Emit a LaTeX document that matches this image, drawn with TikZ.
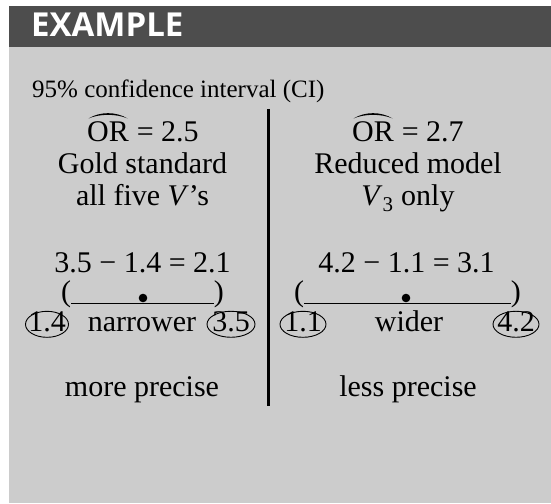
\documentclass[tikz,border=0pt]{standalone}
\usepackage{fontspec}
\setmainfont{Liberation Serif}
\newfontfamily\hdrfont{Open Sans}
\definecolor{panelgray}{RGB}{204,204,204}
\definecolor{headgray}{RGB}{77,77,77}
\begin{document}
\begin{tikzpicture}[x=1pt,y=1pt,
  txt/.style={inner sep=0pt, font=\fontsize{30}{34}\selectfont, anchor=base},
  ring/.style={draw=black, line width=0.9pt},
  bar/.style={line width=1.2pt},
  dotnode/.style={circle, fill=black, inner sep=0pt, minimum size=8.6pt},
  pics/orhat/.style={code={
    \fill (-19.5,3.5) .. controls (-8,10.5) and (8,10.5) .. (19.5,3.5)
          .. controls (8,8.3) and (-8,8.3) .. (-19.5,3.5) -- cycle;}}
]
\useasboundingbox (0,0) rectangle (551,503);
\fill[panelgray] (9,0) rectangle (551,497);
\fill[headgray] (9,456) rectangle (551,497);
\node[anchor=base west, inner sep=0pt, text=white,
      font=\hdrfont\bfseries\fontsize{33}{36}\selectfont] (title) at (31,466) {EXAMPLE};
\node[inner sep=0pt, anchor=base west, font=\fontsize{25}{30}\selectfont] (ci) at (32,405) {95\% confidence interval (CI)};
\draw[line width=3pt] (268.5,394) coordinate (divtop) -- (268.5,97) coordinate (divbot);

% left column
\node[txt, anchor=base west] (orL) at (87,361) {OR};
\node[txt, anchor=base west] (orLv) at (orL.base east) {\ = 2.5};
\pic at (orL.north) {orhat};
\node[txt] (gsL) at (142.5,329) {Gold standard};
\node[txt] (vL) at (142.5,297) {all five \textit{V}’s};
\node[txt] (dL) at (142.5,230) {3.5 − 1.4 = 2.1};
\node[txt, anchor=base west] (lpL) at (61,201) {(};
\node[txt, anchor=base east] (rpL) at (224,201) {)};
\draw[bar] ([yshift=-1.5pt]lpL.base east) -- ([yshift=-1.5pt]rpL.base west);
\node[dotnode] (ptL) at (143,205) {};
\node[txt] (loL) at (47,171) {1.4};
\node[txt] (nwL) at (142,171) {narrower};
\node[txt] (hiL) at (231,171) {3.5};
\draw[ring] ([yshift=-2pt]loL.center) ellipse [x radius=21.5, y radius=13];
\draw[ring] ([yshift=-2pt]hiL.center) ellipse [x radius=24, y radius=13];
\node[txt] (mpL) at (142,106) {more precise};

% right column
\node[txt, anchor=base west] (orR) at (352,361) {OR};
\node[txt, anchor=base west] (orRv) at (orR.base east) {\ = 2.7};
\pic at (orR.north) {orhat};
\node[txt] (rmR) at (408,329) {Reduced model};
\node[txt] (vR) at (408,297) {\textit{V}\textsubscript{3} only};
\node[txt] (dR) at (406.5,230) {4.2 − 1.1 = 3.1};
\node[txt, anchor=base west] (lpR) at (294,201) {(};
\node[txt, anchor=base east] (rpR) at (521,201) {)};
\draw[bar] ([yshift=-1.5pt]lpR.base east) -- ([yshift=-1.5pt]rpR.base west);
\node[dotnode] (ptR) at (406,205) {};
\node[txt] (loR) at (303,171) {1.1};
\node[txt] (wdR) at (409,171) {wider};
\node[txt] (hiR) at (516,171) {4.2};
\draw[ring] ([yshift=-2pt]loR.center) ellipse [x radius=23, y radius=13];
\draw[ring] ([yshift=-2pt]hiR.center) ellipse [x radius=23, y radius=13];
\node[txt] (lpR2) at (408,106) {less precise};
\end{tikzpicture}
\end{document}
